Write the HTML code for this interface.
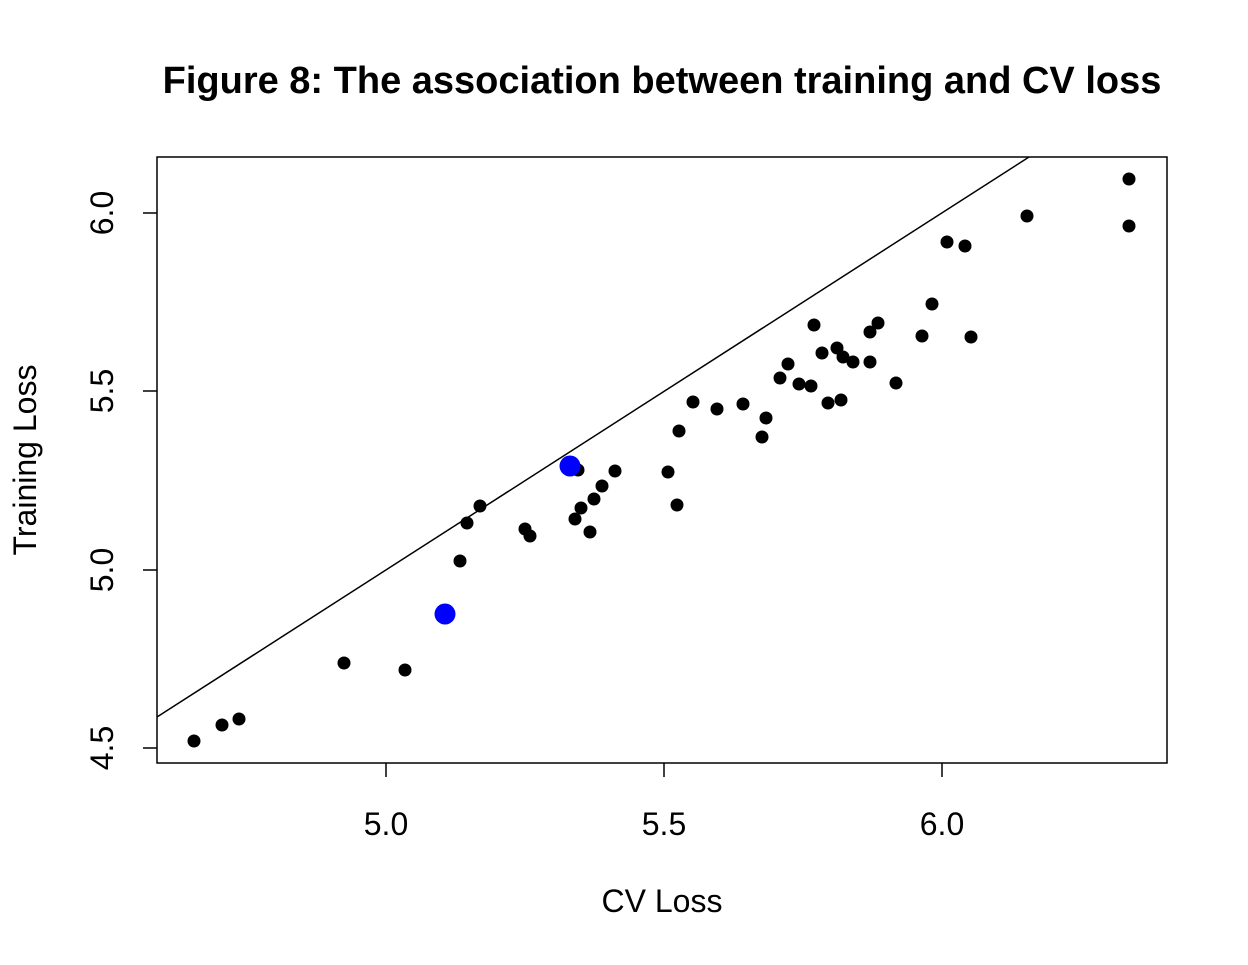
<!DOCTYPE html>
<html><head><style>body{margin:0;background:#fff}</style></head><body>
<svg width="1248" height="960" xmlns="http://www.w3.org/2000/svg" font-family="Liberation Sans, Arial, sans-serif">
<rect width="1248" height="960" fill="#fff"/>
<text x="662" y="93" text-anchor="middle" font-size="38" font-weight="bold">Figure 8: The association between training and CV loss</text>
<rect x="157" y="157" width="1010" height="606" fill="none" stroke="#000" stroke-width="1.5"/>
<g stroke="#000" stroke-width="1.5">
<line x1="386" y1="763" x2="386" y2="777"/><line x1="664" y1="763" x2="664" y2="777"/><line x1="942" y1="763" x2="942" y2="777"/>
<line x1="157" y1="213" x2="143" y2="213"/><line x1="157" y1="391" x2="143" y2="391"/><line x1="157" y1="570" x2="143" y2="570"/><line x1="157" y1="748" x2="143" y2="748"/>
</g>
<g font-size="32" text-anchor="middle">
<text x="386" y="835">5.0</text><text x="664" y="835">5.5</text><text x="942" y="835">6.0</text>
<text transform="translate(113,213) rotate(-90)">6.0</text>
<text transform="translate(113,391) rotate(-90)">5.5</text>
<text transform="translate(113,570) rotate(-90)">5.0</text>
<text transform="translate(113,748) rotate(-90)">4.5</text>
<text x="662" y="912">CV Loss</text>
<text transform="translate(36,460) rotate(-90)">Training Loss</text>
</g>
<line x1="157" y1="717" x2="1029" y2="157" stroke="#000" stroke-width="1.5"/>
<g fill="#000">
<circle cx="194" cy="741" r="6.5"/><circle cx="222" cy="725" r="6.5"/><circle cx="239" cy="719" r="6.5"/><circle cx="344" cy="663" r="6.5"/><circle cx="405" cy="670" r="6.5"/><circle cx="460" cy="561" r="6.5"/><circle cx="467" cy="523" r="6.5"/><circle cx="480" cy="506" r="6.5"/><circle cx="525" cy="529" r="6.5"/><circle cx="530" cy="536" r="6.5"/><circle cx="578" cy="470" r="6.5"/><circle cx="575" cy="519" r="6.5"/><circle cx="581" cy="508" r="6.5"/><circle cx="590" cy="532" r="6.5"/><circle cx="594" cy="499" r="6.5"/><circle cx="602" cy="486" r="6.5"/><circle cx="615" cy="471" r="6.5"/><circle cx="668" cy="472" r="6.5"/><circle cx="677" cy="505" r="6.5"/><circle cx="679" cy="431" r="6.5"/><circle cx="693" cy="402" r="6.5"/><circle cx="717" cy="409" r="6.5"/><circle cx="743" cy="404" r="6.5"/><circle cx="762" cy="437" r="6.5"/><circle cx="766" cy="418" r="6.5"/><circle cx="780" cy="378" r="6.5"/><circle cx="788" cy="364" r="6.5"/><circle cx="799" cy="384" r="6.5"/><circle cx="811" cy="386" r="6.5"/><circle cx="814" cy="325" r="6.5"/><circle cx="822" cy="353" r="6.5"/><circle cx="828" cy="403" r="6.5"/><circle cx="837" cy="348" r="6.5"/><circle cx="841" cy="400" r="6.5"/><circle cx="843" cy="357" r="6.5"/><circle cx="853" cy="362" r="6.5"/><circle cx="870" cy="362" r="6.5"/><circle cx="870" cy="332" r="6.5"/><circle cx="878" cy="323" r="6.5"/><circle cx="896" cy="383" r="6.5"/><circle cx="922" cy="336" r="6.5"/><circle cx="932" cy="304" r="6.5"/><circle cx="947" cy="242" r="6.5"/><circle cx="965" cy="246" r="6.5"/><circle cx="971" cy="337" r="6.5"/><circle cx="1027" cy="216" r="6.5"/><circle cx="1129" cy="179" r="6.5"/><circle cx="1129" cy="226" r="6.5"/>
</g>
<g fill="#0000ff"><circle cx="445" cy="614" r="10.5"/><circle cx="570" cy="466" r="10.5"/></g>
</svg>
</body></html>
